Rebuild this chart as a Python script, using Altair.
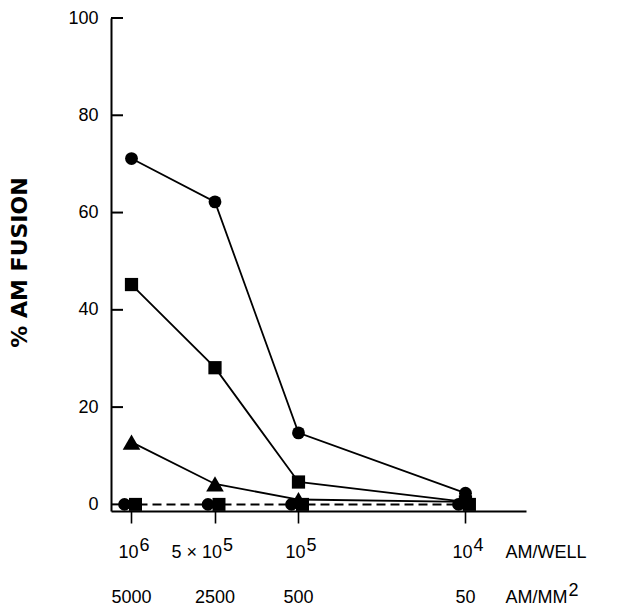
import altair as alt
import pandas as pd

# ---- data ----
positions = [0, 1, 2, 4]                     # 10^6, 5x10^5, 10^5, 10^4 AM/well
well_base = ["10", "5 × 10", "10", "10"]
well_sup = ["6", "5", "5", "4"]
per_mm2 = ["5000", "2500", "500", "50"]

circle_vals = [71.1, 62.2, 14.7, 2.3]
square_vals = [45.2, 28.1, 4.6, 0.5]
triangle_vals = [12.8, 4.2, 1.0, 0.5]
control_vals = [0, 0, 0, 0]

y_ticks = [0, 20, 40, 60, 80, 100]
unit_top = ["AM/WELL"]
unit_bottom = ["AM/MM"]
unit_bottom_sup = ["2"]

FONT = "Liberation Sans"

main = pd.DataFrame(
    [{"pos": p, "value": v, "series": "circle"} for p, v in zip(positions, circle_vals)]
    + [{"pos": p, "value": v, "series": "square"} for p, v in zip(positions, square_vals)]
    + [{"pos": p, "value": v, "series": "triangle"} for p, v in zip(positions, triangle_vals)]
)
ctrl = pd.DataFrame({"pos": positions, "value": control_vals})
ticks_df = pd.DataFrame({"value": y_ticks})
labels_df = pd.DataFrame({"pos": positions, "base": well_base, "sup": well_sup, "mm2": per_mm2})
units_df = pd.DataFrame({"top": unit_top, "bottom": unit_bottom, "sup": unit_bottom_sup})

xscale = alt.Scale(domain=[-0.2455, 4.725], nice=False, zero=False)
yscale = alt.Scale(domain=[-1.36, 100], nice=False, zero=False)

x_axis = alt.Axis(values=positions, labels=False, title=None, grid=False, tickSize=12,
                  tickWidth=1.6, tickColor="black", domainWidth=2, domainColor="black")
y_axis = alt.Axis(values=y_ticks, ticks=False, tickSize=0, labelPadding=13, labelFontSize=18,
                  labelFont=FONT, labelColor="black", domainWidth=2, domainColor="black",
                  grid=False, title="% AM FUSION", titleFont="DejaVu Sans", titleFontSize=22,
                  titleFontWeight="bold", titleAngle=270, titleX=-92, titleY=244,
                  titleBaseline="middle", titleAlign="center", titleColor="black")

X = alt.X("pos:Q", scale=xscale, axis=x_axis)
Y = alt.Y("value:Q", scale=yscale, axis=y_axis)

# inward-pointing y-axis ticks
ytick_marks = alt.Chart(ticks_df).mark_tick(color="black", size=12, thickness=2, opacity=1).encode(
    y=Y, x=alt.value(6)
)

ctrl_line = alt.Chart(ctrl).mark_line(color="black", strokeWidth=2, strokeDash=[9, 5], xOffset=-7).encode(
    x=X, y=Y
)
lines = alt.Chart(main).mark_line(color="black", strokeWidth=1.8).encode(
    x=X, y=Y, detail="series:N"
)
ctrl_circles = alt.Chart(ctrl).mark_point(shape="circle", filled=True, opacity=1, color="black",
                                          size=160, xOffset=-7).encode(x=X, y=Y)
ctrl_squares = alt.Chart(ctrl).mark_point(shape="square", filled=True, opacity=1, color="black",
                                          size=169, xOffset=4).encode(x=X, y=Y)

def pts(name, shape, size):
    return alt.Chart(main).transform_filter(alt.datum.series == name).mark_point(
        shape=shape, filled=True, opacity=1, color="black", size=size
    ).encode(x=X, y=Y)

p_circle = pts("circle", "circle", 165)
p_square = pts("square", "square", 175)
p_tri = pts("triangle", "triangle-up", 310)

txt = dict(font=FONT, fontSize=18, color="black", baseline="alphabetic")
row1_base = alt.Chart(labels_df).mark_text(align="right", dx=7, **txt).encode(
    x=X, y=alt.value(540), text="base:N")
row1_sup = alt.Chart(labels_df).mark_text(align="left", dx=8, **txt).encode(
    x=X, y=alt.value(533), text="sup:N")
row2 = alt.Chart(labels_df).mark_text(align="center", **txt).encode(
    x=X, y=alt.value(585), text="mm2:N")
unit1 = alt.Chart(units_df).mark_text(align="left", dx=40, **txt).encode(
    x=alt.datum(positions[-1]), y=alt.value(540), text="top:N")
unit2 = alt.Chart(units_df).mark_text(align="left", dx=40, **txt).encode(
    x=alt.datum(positions[-1]), y=alt.value(585), text="bottom:N")
unit2_sup = alt.Chart(units_df).mark_text(align="left", dx=103, **txt).encode(
    x=alt.datum(positions[-1]), y=alt.value(578), text="sup:N")

chart = alt.layer(
    ytick_marks, ctrl_line, lines, ctrl_circles, ctrl_squares, p_circle, p_square, p_tri,
    row1_base, row1_sup, row2, unit1, unit2, unit2_sup
).properties(
    width=415, height=493,
    padding={"left": 103, "top": 10, "right": 90, "bottom": 102},
    autosize=alt.AutoSizeParams(type="none"),
    background="white",
).configure_view(stroke=None)

chart.save("out.html", embed_options={"renderer": "svg", "actions": False})
